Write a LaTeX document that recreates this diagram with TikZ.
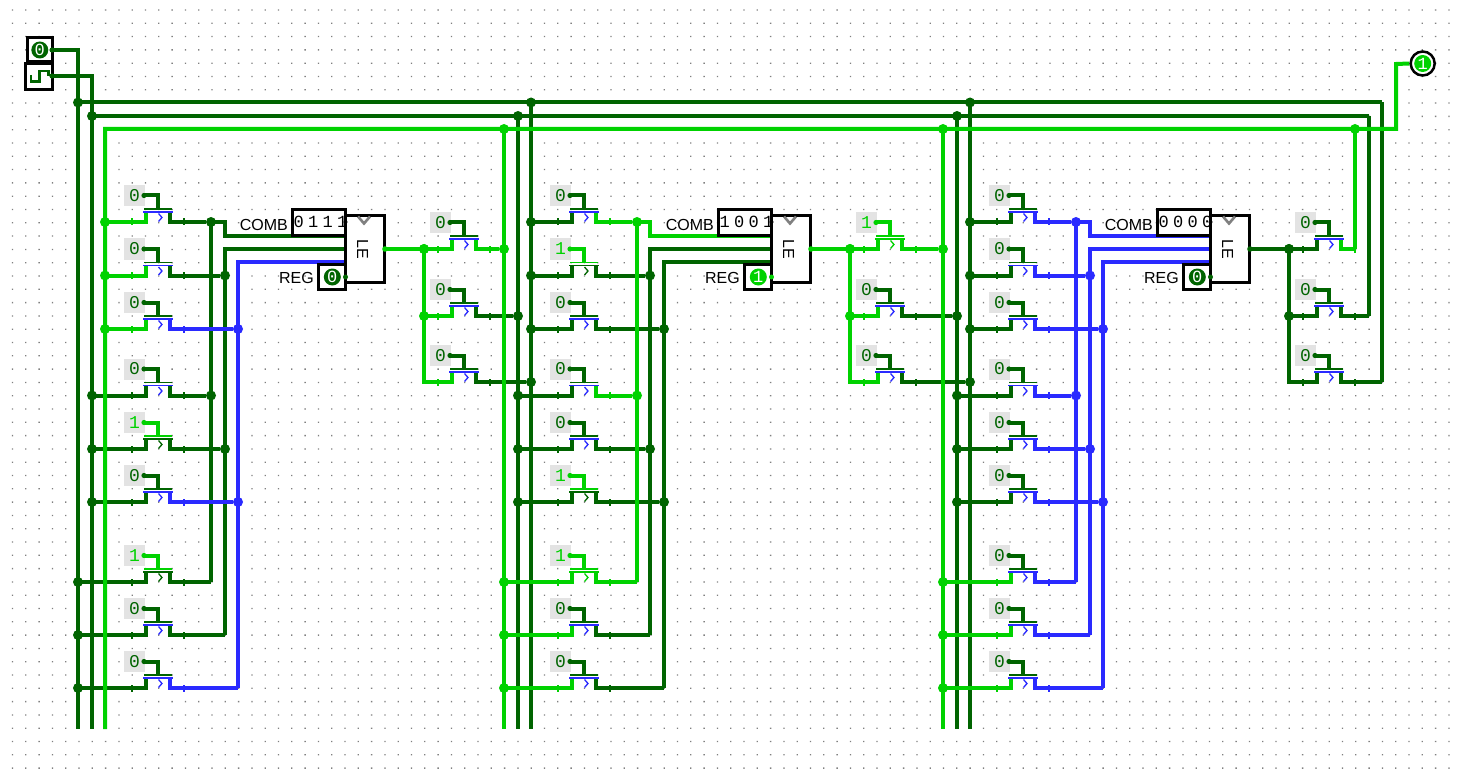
\documentclass[tikz,border=0pt]{standalone}
\usepackage{fontspec}
\setmainfont{Liberation Sans}
\newfontfamily\monof{Liberation Mono}
\newfontfamily\spacedf[LetterSpace=25]{Liberation Mono}
\definecolor{cdark}{HTML}{006400}
\definecolor{cbright}{HTML}{00D200}
\definecolor{cblue}{HTML}{2A2AFF}
\definecolor{cgate}{HTML}{E3E3E3}
\pgfdeclarelayer{grid}
\pgfdeclarelayer{boxes}
\pgfdeclarelayer{wdark}
\pgfdeclarelayer{wblue}
\pgfdeclarelayer{wbright}
\pgfsetlayers{grid,boxes,wdark,wblue,wbright,main}
\tikzset{
  wire/.style={line width=4pt,line cap=butt,line join=miter},
  jn/.style={circle,inner sep=0pt,minimum size=10pt},
  gatelab/.style={fill=cgate,inner sep=0pt,minimum width=21pt,minimum height=21pt,font=\monof\fontsize{18}{18}\selectfont},
  sidelab/.style={inner sep=0pt,font=\fontsize{16}{16}\selectfont,anchor=east},
  pinlab/.style={circle,inner sep=0pt,minimum size=17pt,text=white,font=\monof\fontsize{17}{17}\selectfont},
  thin1/.style={line width=1.2pt},
}
\newif\ifnosrc
\newcommand{\wire}[2]{\begin{pgfonlayer}{w#1}\draw[wire,c#1] #2;\end{pgfonlayer}}
% name, cx, s, gate, source bus x, source colour, out x, out colour, out junction?
\newcommand{\row}[9]{%
  \ifnum#4=0 \def\gc{cdark}\def\cc{cblue}\else \def\gc{cbright}\def\cc{c#6}\fi
  \ifnosrc \node[inner sep=0pt,minimum size=0pt] (#1a) at (#5,#3) {};\else \node[jn,fill=c#6] (#1a) at (#5,#3) {};\fi
  \ifnum#9=1 \node[jn,fill=c#8] (#1b) at (#7,#3) {};\else \coordinate (#1b) at (#7,#3);\fi
  \coordinate (#1s) at ({#2-12},#3);
  \coordinate (#1d) at ({#2+12},#3);
  \coordinate (#1st) at ({#2-12},{#3-10});
  \coordinate (#1dt) at ({#2+12},{#3-10});
  \coordinate (#1g) at (#2,{#3-13});
  \coordinate (#1gt) at (#2,{#3-26.5});
  \node[gatelab,text=\gc] (#1l) at ({#2-23.5},{#3-26.5}) {#4};
  \fill[\gc] ({#2-14},{#3-26.5}) circle (2.6pt);
  \draw[wire,\gc] (#1l.east) -- (#1gt) -- (#1g);
  \draw[thin1,\gc] ({#2-14},{#3-13}) -- ({#2+14},{#3-13});
  \draw[thin1,\cc] ({#2-15},{#3-10}) -- ({#2+15},{#3-10});
  \draw[line width=1.3pt,\cc] (#2+0.5,{#3-8.5}) -- ({#2+4},{#3-4.5}) -- ({#2+0.5},{#3-0.5});
  \wire{#6}{(#1a.center) -- (#1s) -- (#1st)}
  \wire{#8}{(#1dt) -- (#1d) -- (#1b)}
  \fill[c#6] ({#2-26.7},{#3-3.5}) rectangle ({#2-25.3},{#3+3.5});
  \fill[c#8] ({#2+25.3},{#3-3.5}) rectangle ({#2+26.7},{#3+3.5});
  \nosrcfalse
}
% name, dx, comb text, reg value, reg colour, out colour
\newcommand{\latch}[6]{%
  \begin{pgfonlayer}{boxes}
    \fill[white] ({292.7+#2},210) rectangle ({345.7+#2},236);
    \fill[white] ({345.7+#2},216) rectangle ({385+#2},282.3);
    \fill[white] ({319+#2},264) rectangle ({345.7+#2},289.3);
  \end{pgfonlayer}
  \node[draw=black,line width=3pt,minimum width=39.3pt,minimum height=66.6pt,inner sep=0pt] (#1box) at ({365.3+#2},249) {};
  \node[rotate=-90,font=\fontsize{16}{16}\selectfont,inner sep=0pt] (#1le) at ({362.7+#2},249) {LE};
  \draw[line width=2.6pt,black!50] ({358+#2},216.5) -- ({364+#2},223.5) -- ({370+#2},216.5);
  \node[draw=black,line width=3pt,minimum width=53pt,minimum height=26pt,inner sep=0pt] (#1comb) at ({319.2+#2},223) {};
  \node[inner sep=0pt,font=\spacedf\fontsize{17}{17}\selectfont] (#1combt) at ({320.5+#2},222) {#3};
  \node[draw=black,line width=3pt,minimum width=26.7pt,minimum height=25.3pt,inner sep=0pt] (#1reg) at ({332.3+#2},276.7) {};
  \node[pinlab,fill=c#5] (#1regv) at ({332.3+#2},277) {#4};
  \node[sidelab] (#1cl) at ({288+#2},225) {COMB};
  \node[sidelab] (#1rl) at ({314+#2},278) {REG};
  \coordinate (#1in1) at ({345.5+#2},236);
  \coordinate (#1in2) at ({345.5+#2},249);
  \coordinate (#1in3) at ({345.5+#2},262);
  \coordinate (#1out) at ({385+#2},249);
  \fill[black] ({345.5+#2},222) circle (2pt);
  \fill[c#5] ({345.5+#2},277) circle (2.5pt);
  \fill[c#6] (#1out) circle (2.8pt);
}
\begin{document}
\begin{tikzpicture}[x=1pt,y=-1pt]
\useasboundingbox (0,0) rectangle (1459,770);
\begin{pgfonlayer}{grid}
  \fill[white] (0,0) rectangle (1459,770);
  \fill[black!50] foreach \i in {0,...,108} { foreach \j in {0,...,57} {
     ({12.5+13.3*\i-0.65},{10+13.3*\j-0.65}) rectangle ++(1.3,1.3) } };
\end{pgfonlayer}

% ---------- source pins
\node[draw=black,line width=3pt,fill=white,minimum width=25pt,minimum height=24pt,inner sep=0pt] (con) at (39.8,50) {};
\node[pinlab,fill=cdark,minimum size=17pt] (conv) at (39.8,50) {0};
\node[draw=black,line width=3pt,fill=white,minimum width=26.7pt,minimum height=25.5pt,inner sep=0pt] (clk) at (38.8,76.5) {};
\draw[line width=2.6pt,cdark] (31,75) -- (31,81.7) -- (39.5,81.7) -- (39.5,71) -- (48.5,71) -- (48.5,76);
\coordinate (conp) at (52,50);
\coordinate (clkp) at (52,76);
\fill[cdark] (conp) circle (2.6pt);
\fill[cdark] (clkp) circle (2.6pt);

% ---------- bus nodes
\node[jn,fill=cdark] (t78) at (78,102.5) {};
\node[jn,fill=cdark] (t92) at (92,116) {};
\node[jn,fill=cdark] (t531) at (531,102.5) {};
\node[jn,fill=cdark] (t518) at (518,116) {};
\node[jn,fill=cbright] (t504) at (504,129) {};
\node[jn,fill=cdark] (t970) at (970,102.5) {};
\node[jn,fill=cdark] (t957) at (957,116) {};
\node[jn,fill=cbright] (t943) at (943,129) {};
\node[jn,fill=cbright] (t1355) at (1355,129) {};
\coordinate (t105) at (105,129);
\coordinate (e1382) at (1382,102.5);
\coordinate (e1369) at (1369,116);
\coordinate (e1396) at (1396,129);
\coordinate (p78) at (78,50);
\coordinate (p92) at (92,76);
\coordinate (pout) at (1396,64);
\foreach \n/\xx in {b78/78,b92/92,b105/105,b504/504,b518/518,b531/531,b943/943,b957/957,b970/970} {\coordinate (\n) at (\xx,729);}

% output pin
\node[circle,draw=black,line width=2.5pt,fill=white,minimum size=24pt,inner sep=0pt] (pinout) at (1422.7,63.5) {};
\node[pinlab,fill=cbright] (pinoutv) at (1422.7,63.5) {1};

\wire{dark}{(conp) -- (p78) -- (b78)}
\wire{dark}{(clkp) -- (p92) -- (b92)}
\wire{dark}{(t78.center) -- (e1382)}
\wire{dark}{(t92.center) -- (e1369)}
\wire{bright}{(b105) -- (t105) -- (e1396) -- (pout) -- (pinout.west)}
\wire{dark}{(t531.center) -- (b531)}
\wire{dark}{(t518.center) -- (b518)}
\wire{bright}{(t504.center) -- (b504)}
\wire{dark}{(t970.center) -- (b970)}
\wire{dark}{(t957.center) -- (b957)}
\wire{bright}{(t943.center) -- (b943)}

% ---------- block 1
\row{a1}{158}{222}{0}{105}{bright}{211}{dark}{1}
\row{a2}{158}{275.5}{0}{105}{bright}{225}{dark}{1}
\row{a3}{158}{329}{0}{105}{bright}{238}{blue}{1}
\row{a4}{158}{395.5}{0}{92}{dark}{211}{dark}{1}
\row{a5}{158}{449}{1}{92}{dark}{225}{dark}{1}
\row{a6}{158}{502}{0}{92}{dark}{238}{blue}{1}
\row{a7}{158}{582}{1}{78}{dark}{211}{dark}{0}
\row{a8}{158}{635}{0}{78}{dark}{225}{dark}{0}
\row{a9}{158}{688}{0}{78}{dark}{238}{blue}{0}
\latch{la}{0}{0111}{0}{dark}{bright}
\coordinate (ac1) at (225,236);
\coordinate (ac2) at (225,249);
\coordinate (ac3) at (238,262);
\wire{dark}{(a1b.center) -- (a7b)}
\wire{dark}{(a1b.center) -| (ac1) -- (lain1)}
\wire{dark}{(a8b) -- (ac2) -- (lain2)}
\wire{blue}{(a9b) -- (ac3) -- (lain3)}
\node[jn,fill=cbright] (am1) at (424,249) {};
\wire{bright}{(laout) -- (am1.center)}
\row{m1}{464}{249}{0}{424}{bright}{504}{bright}{1}
\row{m2}{464}{316}{0}{424}{bright}{518}{dark}{1}
\nosrctrue
\row{m3}{464}{382}{0}{424}{bright}{531}{dark}{1}
\wire{bright}{(am1.center) -- (m3a.center)}
\fill[cbright] (m3a.center) ++(-2,-2) rectangle ++(4,4);

% ---------- block 2
\row{c1}{584}{222}{0}{531}{dark}{637}{bright}{1}
\row{c2}{584}{275.5}{1}{531}{dark}{650}{dark}{1}
\row{c3}{584}{329}{0}{531}{dark}{664}{dark}{1}
\row{c4}{584}{395.5}{0}{518}{dark}{637}{bright}{1}
\row{c5}{584}{449}{0}{518}{dark}{650}{dark}{1}
\row{c6}{584}{502}{1}{518}{dark}{664}{dark}{1}
\row{c7}{584}{582}{1}{504}{bright}{637}{bright}{0}
\row{c8}{584}{635}{0}{504}{bright}{650}{dark}{0}
\row{c9}{584}{688}{0}{504}{bright}{664}{dark}{0}
\latch{lb}{426}{1001}{1}{bright}{bright}
\coordinate (cc1) at (650,236);
\coordinate (cc2) at (650,249);
\coordinate (cc3) at (664,262);
\wire{bright}{(c1b.center) -- (c7b)}
\wire{bright}{(c1b.center) -| (cc1) -- (lbin1)}
\wire{dark}{(c8b) -- (cc2) -- (lbin2)}
\wire{dark}{(c9b) -- (cc3) -- (lbin3)}
\node[jn,fill=cbright] (bm1) at (850,249) {};
\wire{bright}{(lbout) -- (bm1.center)}
\row{n1}{890}{249}{1}{850}{bright}{943}{bright}{1}
\row{n2}{890}{316}{0}{850}{bright}{957}{dark}{1}
\nosrctrue
\row{n3}{890}{382}{0}{850}{bright}{970}{dark}{1}
\wire{bright}{(bm1.center) -- (n3a.center)}
\fill[cbright] (n3a.center) ++(-2,-2) rectangle ++(4,4);

% ---------- block 3
\row{e1}{1023}{222}{0}{970}{dark}{1076}{blue}{1}
\row{e2}{1023}{275.5}{0}{970}{dark}{1090}{blue}{1}
\row{e3}{1023}{329}{0}{970}{dark}{1103}{blue}{1}
\row{e4}{1023}{395.5}{0}{957}{dark}{1076}{blue}{1}
\row{e5}{1023}{449}{0}{957}{dark}{1090}{blue}{1}
\row{e6}{1023}{502}{0}{957}{dark}{1103}{blue}{1}
\row{e7}{1023}{582}{0}{943}{bright}{1076}{blue}{0}
\row{e8}{1023}{635}{0}{943}{bright}{1090}{blue}{0}
\row{e9}{1023}{688}{0}{943}{bright}{1103}{blue}{0}
\latch{lc}{865}{0000}{0}{dark}{dark}
\coordinate (ec1) at (1090,236);
\coordinate (ec2) at (1090,249);
\coordinate (ec3) at (1103,262);
\wire{blue}{(e1b.center) -- (e7b)}
\wire{blue}{(e1b.center) -| (ec1) -- (lcin1)}
\wire{blue}{(e8b) -- (ec2) -- (lcin2)}
\wire{blue}{(e9b) -- (ec3) -- (lcin3)}
\node[jn,fill=cdark] (cm1) at (1289,249) {};
\wire{dark}{(lcout) -- (cm1.center)}
\row{q1}{1329}{249}{0}{1289}{dark}{1355}{bright}{0}
\row{q2}{1329}{316}{0}{1289}{dark}{1369}{dark}{0}
\nosrctrue
\row{q3}{1329}{382}{0}{1289}{dark}{1382}{dark}{0}
\wire{dark}{(cm1.center) -- (q3a.center)}
\fill[cdark] (q3a.center) ++(-2,-2) rectangle ++(4,4);
\wire{bright}{(t1355.center) -- (q1b)}
\wire{dark}{(e1369) -- (q2b)}
\wire{dark}{(e1382) -- (q3b)}
\end{tikzpicture}
\end{document}
